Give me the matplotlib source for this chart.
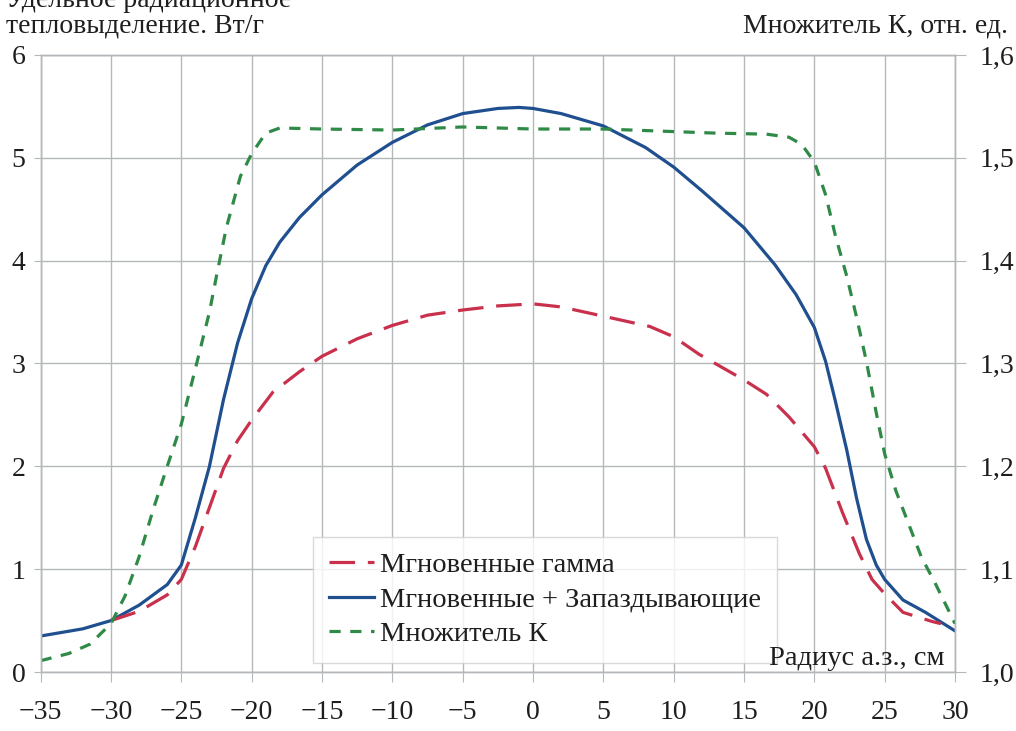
import matplotlib
matplotlib.use("Agg")
import matplotlib.pyplot as plt
from matplotlib.lines import Line2D

plt.rcParams['font.family'] = ['Liberation Serif', 'DejaVu Serif']

# Blue: prompt + delayed
x_blue = [-35, -32, -30, -28, -26, -25, -24, -23, -22, -21, -20, -19, -18, -16.6, -15, -12.5, -10,
          -7.5, -5, -2.5, -1, 0, 2, 5, 8, 10, 12, 15, 17.2, 18.7, 20, 20.8, 21.5, 22.3, 23,
          23.7, 24.4, 25, 26.3, 27.9, 30]
y_blue = [0.35, 0.42, 0.50, 0.65, 0.85, 1.04, 1.5, 2.0, 2.65, 3.2, 3.63, 3.95, 4.18, 4.42, 4.64, 4.93, 5.15,
          5.32, 5.43, 5.48, 5.49, 5.48, 5.43, 5.31, 5.1, 4.91, 4.68, 4.32, 3.96, 3.67, 3.35, 3.02, 2.63, 2.16, 1.69,
          1.29, 1.04, 0.9, 0.70, 0.58, 0.40]

# Red: prompt gamma
x_red = [-30, -28, -26, -25, -24, -23, -22, -21, -20, -18.5, -16.6, -15, -12.5, -10, -7.5, -5, -2.5,
         0, 2, 5, 8.3, 10, 11.8, 15, 16.6, 18.2, 20, 20.8, 22, 23.2, 24.1, 25, 26.3, 28.4, 29]
y_red = [0.5, 0.59, 0.75, 0.9, 1.22, 1.6, 1.98, 2.25, 2.45, 2.72, 2.92, 3.07, 3.24, 3.37, 3.47, 3.52, 3.56,
         3.58, 3.55, 3.46, 3.36, 3.26, 3.09, 2.84, 2.70, 2.48, 2.19, 1.98, 1.55, 1.15, 0.9, 0.76, 0.58, 0.49, 0.47]

# Green: multiplier K (right axis)
x_k = [-35, -33, -31.5, -30, -29, -28, -27, -26, -25, -24, -23, -22.5, -21.8, -20.8, -20, -19, -18,
       -15, -10, -5, 0, 5, 9, 13, 16.6, 18.2, 19.1, 20, 20.8, 21.5, 22.3, 23, 23.7, 24.4, 25, 25.8,
       26.7, 27.6, 28.6, 29.5, 30]
k_vals = [1.011, 1.018, 1.027, 1.047, 1.074, 1.112, 1.158, 1.200, 1.241, 1.295, 1.350, 1.385, 1.432,
          1.482, 1.504, 1.524, 1.529, 1.528, 1.527, 1.530, 1.528, 1.528, 1.526, 1.524, 1.523, 1.520,
          1.513, 1.496, 1.464, 1.424, 1.385, 1.345, 1.302, 1.252, 1.212, 1.176, 1.144, 1.112, 1.086,
          1.061, 1.047]

x_ticks = [-35, -30, -25, -20, -15, -10, -5, 0, 5, 10, 15, 20, 25, 30]
x_ticklabels = ['\u221235', '\u221230', '\u221225', '\u221220', '\u221215', '\u221210', '\u22125',
                '0', '5', '10', '15', '20', '25', '30']
y_left_ticks = [0, 1, 2, 3, 4, 5, 6]
y_right_ticks = [1.0, 1.1, 1.2, 1.3, 1.4, 1.5, 1.6]
y_right_labels = ['1,0', '1,1', '1,2', '1,3', '1,4', '1,5', '1,6']

labels = ['Мгновенные гамма', 'Мгновенные + Запаздывающие', 'Множитель К']
c_red, c_blue, c_green = '#c9304c', '#1f4f8f', '#2f8a47'
grid_c = '#b4b8ba'
txt_c = '#1e1e1e'

W, H = 1016, 731
fig = plt.figure(figsize=(W / 100, H / 100), dpi=100)
ax = fig.add_axes([0.040, 0.0807, 0.900, 0.8441])
ax2 = ax.twinx()

ax.plot(x_blue, y_blue, color=c_blue, lw=2.3, solid_capstyle='round', solid_joinstyle='round')
ax.plot(x_red, y_red, color=c_red, lw=2.3, dashes=(8, 4))
ax2.plot(x_k, k_vals, color=c_green, lw=2.3, dashes=(3.5, 3))

ax.set_xlim(-35, 30)
ax.set_ylim(0, 6)
ax2.set_ylim(1.0, 1.6)
ax.set_xticks(x_ticks)
ax.set_xticklabels(x_ticklabels)
ax.set_yticks(y_left_ticks)
ax2.set_yticks(y_right_ticks)
ax2.set_yticklabels(y_right_labels)

ax.grid(True, color=grid_c, lw=1.0)
for a in (ax, ax2):
    for s in a.spines.values():
        s.set_color(grid_c)
        s.set_linewidth(1.0)
ax.tick_params(axis='x', length=7, color=grid_c, labelsize=20, pad=13, labelcolor=txt_c)
ax.tick_params(axis='y', length=5, color=grid_c, labelsize=20, pad=6, labelcolor=txt_c)
ax2.tick_params(axis='y', length=8, color=grid_c, labelsize=20, pad=10, labelcolor=txt_c)

# Left axis title (first line partially cut off at the top, as in the source)
fig.text(0.006, 1 - 7 / H, 'Удельное радиационное', ha='left', va='baseline',
         fontsize=20, color=txt_c)
fig.text(0.006, 1 - 32 / H, 'тепловыделение. Вт/г', ha='left', va='baseline',
         fontsize=20, color=txt_c)
fig.text(1008 / W, 1 - 32 / H, 'Множитель К, отн. ед.', ha='right', va='baseline',
         fontsize=20, color=txt_c)

handles = [Line2D([], [], color=c_red, lw=2.3, dashes=(8, 4)),
           Line2D([], [], color=c_blue, lw=2.3),
           Line2D([], [], color=c_green, lw=2.3, dashes=(3.5, 3))]
leg = ax2.legend(handles, labels, loc='lower left', bbox_to_anchor=(0.298, 0.015),
                 fontsize=20.5, frameon=True, fancybox=False, edgecolor='#d0d0d0',
                 handlelength=1.6, handletextpad=0.2, labelspacing=0.3, borderpad=0.55,
                 borderaxespad=0)
leg.get_frame().set_linewidth(1.0)
for t in leg.get_texts():
    t.set_color(txt_c)

ax2.text(0.988, 0.022, 'Радиус а.з., см', transform=ax2.transAxes, ha='right', va='center',
         fontsize=20.5, color=txt_c, zorder=10)

fig.savefig('out.png', dpi=100)
